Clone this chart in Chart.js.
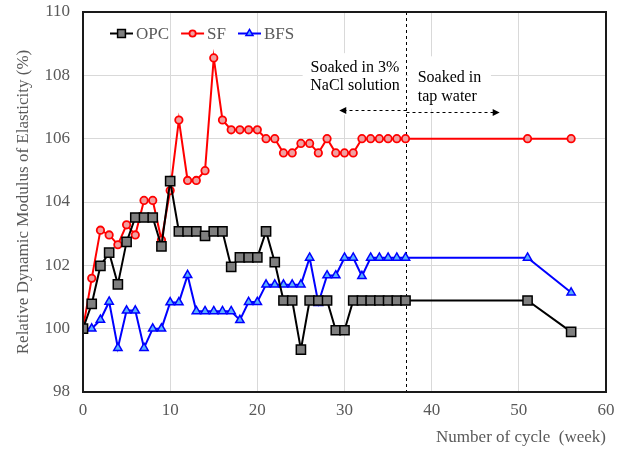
<!DOCTYPE html>
<html>
<head>
<meta charset="utf-8">
<script src="https://cdn.jsdelivr.net/npm/chart.js@4/dist/chart.umd.min.js"></script>
<style>
  html, body { margin: 0; padding: 0; background: #ffffff; }
  #wrap { width: 624px; height: 450px; }
</style>
</head>
<body>
<div id="wrap"><canvas id="c" width="624" height="450"></canvas></div>
<script>
// Weeks of exposure (cycles)
const weeks = [0, 1, 2, 3, 4, 5, 6, 7, 8, 9, 10, 11, 12, 13, 14, 15, 16, 17, 18, 19,
               20, 21, 22, 23, 24, 25, 26, 27, 28, 29, 30, 31, 32, 33, 34, 35, 36, 37, 51, 56];

// Relative dynamic modulus of elasticity (%)
const opc = [100.0, 100.78, 101.98, 102.4, 101.4, 102.74, 103.51, 103.51, 103.51, 102.6,
             104.66, 103.07, 103.07, 103.07, 102.93, 103.07, 103.07, 101.95, 102.25, 102.25,
             102.25, 103.07, 102.1, 100.89, 100.89, 99.34, 100.89, 100.89, 100.89, 99.95,
             99.95, 100.89, 100.89, 100.89, 100.89, 100.89, 100.89, 100.89, 100.89, 99.9];
const sf  = [100.0, 101.59, 103.11, 102.96, 102.65, 103.28, 102.96, 104.05, 104.05, 102.8,
             104.36, 106.59, 104.68, 104.68, 104.99, 108.55, 106.59, 106.28, 106.28, 106.28,
             106.28, 106.0, 106.0, 105.55, 105.55, 105.85, 105.85, 105.55, 106.0, 105.55,
             105.55, 105.55, 106.0, 106.0, 106.0, 106.0, 106.0, 106.0, 106.0, 106.0];
const bfs = [100.0, 100.0, 100.28, 100.85, 99.39, 100.57, 100.57, 99.39, 100.0, 100.0,
             100.83, 100.83, 101.69, 100.55, 100.55, 100.55, 100.55, 100.55, 100.27, 100.84,
             100.84, 101.39, 101.39, 101.39, 101.39, 101.39, 102.24, 100.81, 101.68, 101.68,
             102.24, 102.24, 101.66, 102.24, 102.24, 102.24, 102.24, 102.24, 102.24, 101.14];

const seriesNames = ['OPC', 'SF', 'BFS'];
const switchWeek = 37;   // change from NaCl solution to tap water
const xTitle = 'Number of cycle  (week)';
const yTitle = 'Relative Dynamic Modulus of Elasticity (%)';
const noteNaCl = ['Soaked in 3%', 'NaCl solution'];
const noteTap = ['Soaked in', 'tap water'];

const FONT = '"Liberation Serif", "Times New Roman", serif';
const GREY_TEXT = '#595959';

function pts(ys) { return weeks.map((w, i) => ({ x: w, y: ys[i] })); }

const styles = [
  { color: '#000000', fill: '#7f7f7f', pointStyle: 'rect', radius: 6.5, bw: 1.5 },
  { color: '#ff0000', fill: '#f0a0a0', pointStyle: 'circle', radius: 3.7, bw: 1.8 },
  { color: '#0000ff', fill: '#5ab0ff', pointStyle: 'triangle', radius: 4.8, bw: 1.5 }
];
const values = [opc, sf, bfs];

const datasets = seriesNames.map((name, k) => ({
  label: name,
  data: pts(values[k]),
  borderColor: styles[k].color,
  borderWidth: 2,
  pointStyle: styles[k].pointStyle,
  pointRadius: styles[k].radius,
  pointBorderWidth: styles[k].bw,
  pointBorderColor: styles[k].color,
  pointBackgroundColor: styles[k].fill,
  tension: 0,
  fill: false
}));

// Notes, arrows, dashed divider, frame and in-plot legend
const decor = {
  id: 'decor',
  beforeDatasetsDraw(chart) {
    const { ctx, chartArea: a, scales: { x, y } } = chart;
    ctx.save();
    // white backing for the two notes
    ctx.fillStyle = '#ffffff';
    ctx.fillRect(x.getPixelForValue(25.2), y.getPixelForValue(108.7),
                 x.getPixelForValue(37) - x.getPixelForValue(25.2),
                 y.getPixelForValue(106.75) - y.getPixelForValue(108.7));
    ctx.fillRect(x.getPixelForValue(37.3), y.getPixelForValue(108.6),
                 x.getPixelForValue(46.8) - x.getPixelForValue(37.3),
                 y.getPixelForValue(106.95) - y.getPixelForValue(108.6));

    ctx.fillStyle = '#000000';
    ctx.font = '16px ' + FONT;
    ctx.textBaseline = 'middle';
    ctx.textAlign = 'center';
    ctx.fillText(noteNaCl[0], x.getPixelForValue(31.2), y.getPixelForValue(108.24));
    ctx.fillText(noteNaCl[1], x.getPixelForValue(31.2), y.getPixelForValue(107.68));
    ctx.textAlign = 'left';
    ctx.fillText(noteTap[0], x.getPixelForValue(38.4), y.getPixelForValue(107.92));
    ctx.fillText(noteTap[1], x.getPixelForValue(38.4), y.getPixelForValue(107.32));

    // dashed divider
    const xd = Math.round(x.getPixelForValue(switchWeek)) + 0.5;
    ctx.strokeStyle = '#000000';
    ctx.lineWidth = 1;
    ctx.setLineDash([3, 3]);
    ctx.beginPath();
    ctx.moveTo(xd, a.top);
    ctx.lineTo(xd, a.bottom);
    ctx.stroke();

    // dashed arrows
    const arrow = (x0, x1, yv) => {
      const py = Math.round(y.getPixelForValue(yv)) + 0.5;
      const dir = Math.sign(x1 - x0);
      ctx.setLineDash([3, 3]);
      ctx.beginPath();
      ctx.moveTo(x0, py);
      ctx.lineTo(x1 - dir * 6, py);
      ctx.stroke();
      ctx.setLineDash([]);
      ctx.beginPath();
      ctx.moveTo(x1, py);
      ctx.lineTo(x1 - dir * 7, py - 3.5);
      ctx.lineTo(x1 - dir * 7, py + 3.5);
      ctx.closePath();
      ctx.fill();
    };
    arrow(xd, x.getPixelForValue(29.4), 106.89);
    arrow(xd, x.getPixelForValue(47.8), 106.83);
    ctx.restore();
  },
  afterDraw(chart) {
    const { ctx, chartArea: a } = chart;
    ctx.save();
    // plot frame
    ctx.strokeStyle = '#1a1a1a';
    ctx.lineWidth = 2;
    ctx.setLineDash([]);
    ctx.strokeRect(a.left, a.top, a.right - a.left, a.bottom - a.top);

    // legend inside the plot
    const ly = a.top + 21.5;
    let lx = a.left + 27;
    ctx.font = '17px ' + FONT;
    ctx.textBaseline = 'middle';
    ctx.textAlign = 'left';
    seriesNames.forEach((name, k) => {
      const s = styles[k];
      ctx.strokeStyle = s.color;
      ctx.lineWidth = 2;
      ctx.beginPath();
      ctx.moveTo(lx, ly);
      ctx.lineTo(lx + 23, ly);
      ctx.stroke();
      ctx.fillStyle = s.fill;
      ctx.lineWidth = s.bw;
      const r = s.radius * 0.85;
      Chart.helpers.drawPoint(ctx, { pointStyle: s.pointStyle, radius: r, borderWidth: s.bw, rotation: 0 }, lx + 11.5, ly);
      ctx.fillStyle = GREY_TEXT;
      ctx.fillText(name, lx + 26, ly + 1);
      lx += 26 + ctx.measureText(name).width + 12;
    });
    ctx.restore();
  }
};

new Chart(document.getElementById('c'), {
  type: 'line',
  data: { datasets },
  options: {
    responsive: false,
    animation: false,
    layout: { padding: { top: 12, right: 18, left: 0, bottom: 0 } },
    plugins: { legend: { display: false }, tooltip: { enabled: false } },
    elements: { line: { borderJoinStyle: 'miter' } },
    scales: {
      x: {
        type: 'linear',
        min: 0, max: 60,
        afterFit(s) { s.height = 58; s.paddingLeft = 0; s.paddingRight = 0; },
        ticks: { stepSize: 10, color: GREY_TEXT, font: { family: FONT, size: 17 }, padding: 8, maxRotation: 0 },
        grid: { color: '#d9d9d9', lineWidth: 1, drawTicks: false },
        border: { display: false },
        title: { display: true, text: xTitle, align: 'end', color: GREY_TEXT,
                 font: { family: FONT, size: 17 }, padding: { top: 0, bottom: 2 } }
      },
      y: {
        min: 98, max: 110,
        afterFit(s) { s.width = 83; s.paddingTop = 0; s.paddingBottom = 0; },
        ticks: { stepSize: 2, color: GREY_TEXT, font: { family: FONT, size: 17 }, padding: 13 },
        grid: { color: '#d9d9d9', lineWidth: 1, drawTicks: false },
        border: { display: false },
        title: { display: true, text: yTitle, color: GREY_TEXT,
                 font: { family: FONT, size: 17 }, padding: { top: 13, bottom: 0 } }
      }
    }
  },
  plugins: [decor]
});
</script>
</body>
</html>
